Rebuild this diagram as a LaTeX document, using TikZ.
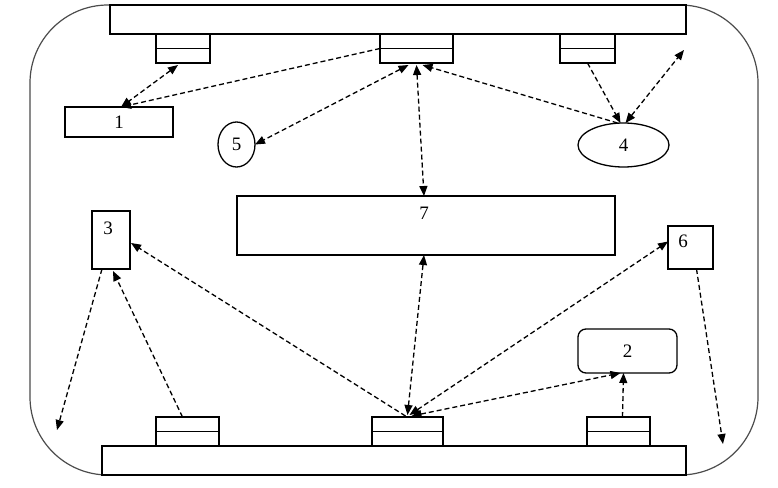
\documentclass[tikz,border=0pt]{standalone}
\usepackage{fontspec}
\setmainfont{Liberation Serif}
\usetikzlibrary{arrows.meta,shapes.geometric,calc}
\begin{document}
\begin{tikzpicture}[x=1pt,y=-1pt,
  font=\fontsize{19}{21}\selectfont,
  box/.style={draw=black,line width=1.3pt,inner sep=0pt,outer sep=0pt,rectangle,fill=white},
  oval/.style={box,ellipse},
  link/.style={line width=1.3pt,dash pattern=on 5pt off 3pt},
  tip/.style={-{Triangle[length=10pt,width=8pt]}},
  dbl/.style={{Triangle[length=10pt,width=8pt]}-{Triangle[length=10pt,width=8pt]}},
  mid/.style={line width=1.3pt}
]
\useasboundingbox (0,0) rectangle (778,487);
% outer frame
\node[draw=gray!60!black,line width=1.2pt,rounded corners=78pt,inner sep=0pt,
      minimum width=728pt,minimum height=470pt] (frame) at (394,240) {};
% bars
\node[box,minimum width=576pt,minimum height=29pt] (topbar) at (398,19.5) {};
\node[box,minimum width=584pt,minimum height=29pt] (botbar) at (394,460.5) {};
% slots
\node[box,minimum width=54pt,minimum height=29pt] (A) at (183,48.5) {};
\node[box,minimum width=73pt,minimum height=29pt] (B) at (416.5,48.5) {};
\node[box,minimum width=55pt,minimum height=29pt] (C) at (587.5,48.5) {};
\node[box,minimum width=63pt,minimum height=29pt] (D) at (187.5,431.5) {};
\node[box,minimum width=71pt,minimum height=29pt] (E) at (407.5,431.5) {};
\node[box,minimum width=63pt,minimum height=29pt] (F) at (618.5,431.5) {};
\foreach \s in {A,B,C,D,E,F} \draw[mid] (\s.west) -- (\s.east);
% elements
\node[box,minimum width=108pt,minimum height=30pt] (n1) at (119,122) {1};
\node[oval,minimum width=37pt,minimum height=45pt] (n5) at (236.5,144.5) {5};
\node[oval,minimum width=91pt,minimum height=44pt] (n4) at (623.5,145) {4};
\node[box,minimum width=378pt,minimum height=59pt,
      label={[anchor=north,inner sep=0pt,yshift=-11pt,xshift=-2pt]north:7}] (n7) at (426,225.5) {};
\node[box,minimum width=38pt,minimum height=58pt,
      label={[anchor=north,inner sep=0pt,yshift=-11pt,xshift=-3pt]north:3}] (n3) at (111,240) {};
\node[box,minimum width=45pt,minimum height=43pt,
      label={[anchor=north,inner sep=0pt,yshift=-9pt,xshift=-7.5pt]north:6}] (n6) at (690.5,247.5) {};
\node[box,rounded corners=8pt,minimum width=99pt,minimum height=44pt] (n2) at (627.5,351) {2};
% free ends
\coordinate (f4) at (684,50);
\coordinate (f3) at (57,430);
\coordinate (f6) at (723,444);
% connectors (top)
\draw[link,dbl] ($(A.south)+(-5,2)$) -- ($(n1.north)+(2,0)$);
\draw[link,tip] (B.west) -- ($(n1.north)+(2,0)$);
\draw[link,dbl] ($(B.south)+(-8,2)$) -- (n5.east);
\draw[link,dbl] ($(B.south)+(0,2)$) -- ($(n7.north)+(-2,0)$);
\draw[link,tip] ($(n4.north)+(-6,0)$) -- ($(B.south)+(6,2)$);
\draw[link,tip] (C.south) -- ($(n4.north)+(-3,0)$);
\draw[link,dbl] ($(n4.north)+(2,0)$) -- (f4);
% connectors (bottom)
\draw[link,tip] ($(n3.south)+(-9,0)$) -- (f3);
\draw[link,tip] ($(D.north)+(-5,0)$) -- ($(n3.south)+(2,2)$);
\draw[link,tip] ($(E.north)+(-2,-1)$) -- ($(n3.east)+(1,3)$);
\draw[link,dbl] ($(E.north)+(0,-2)$) -- ($(n7.south)+(-2,0)$);
\draw[link,dbl] ($(E.north)+(2,-2)$) -- ($(n6.west)+(0,-6)$);
\draw[link,dbl] ($(E.north)+(4,-1)$) -- ($(n2.south)+(-7,0)$);
\draw[link,tip] ($(F.north)+(4,0)$) -- ($(n2.south)+(-4,0)$);
\draw[link,tip] ($(n6.south)+(6,0)$) -- (f6);
\end{tikzpicture}
\end{document}
